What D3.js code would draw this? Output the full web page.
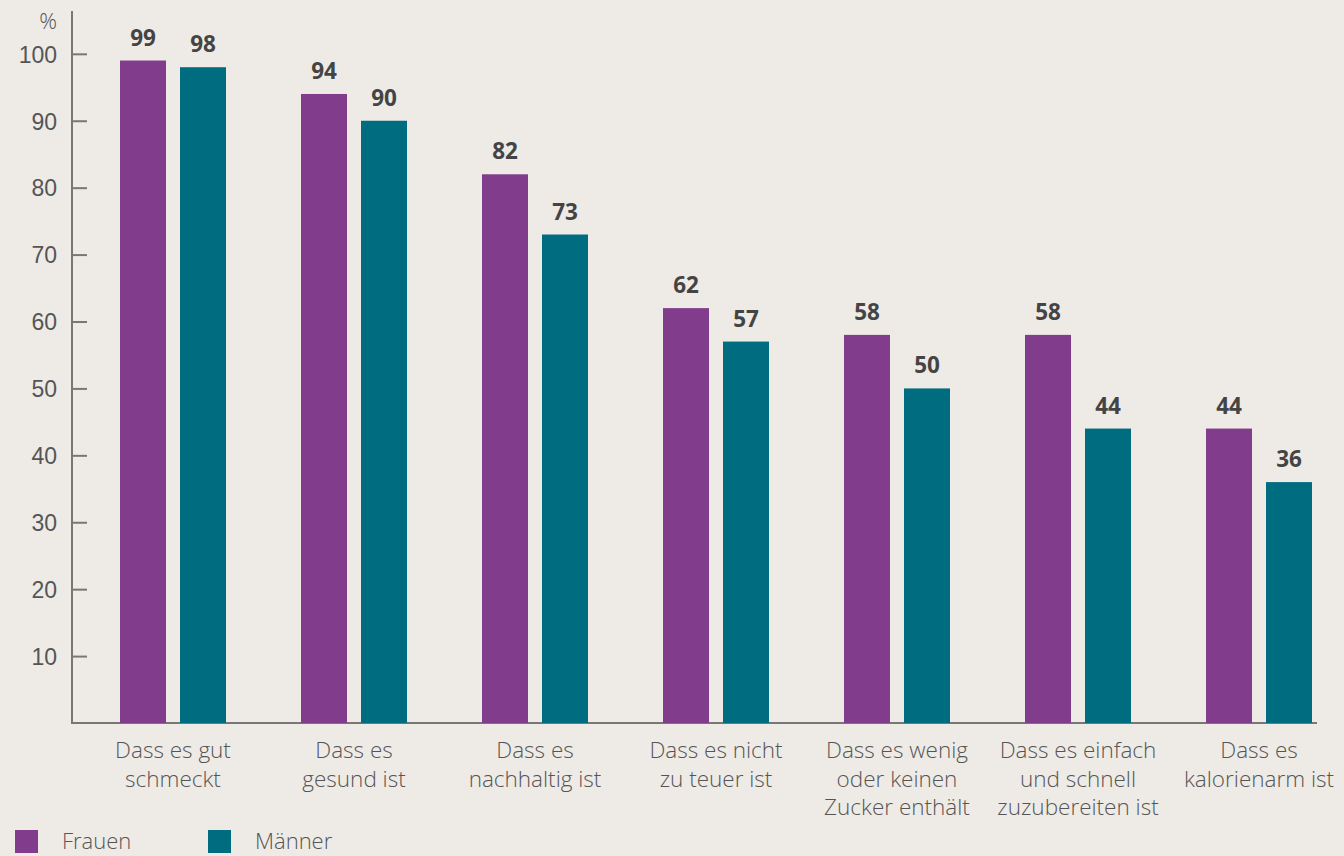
<!DOCTYPE html>
<html><head><meta charset="utf-8">
<script src="https://cdn.jsdelivr.net/npm/d3@7"></script>
<style>
html,body{margin:0;padding:0;background:#eeebe7;}
svg{display:block;font-family:"Open Sans",sans-serif;}
</style></head>
<body><svg id="c" width="1344" height="856"></svg>
<script>
const categories = [
  ["Dass es gut","schmeckt"],
  ["Dass es","gesund ist"],
  ["Dass es","nachhaltig ist"],
  ["Dass es nicht","zu teuer ist"],
  ["Dass es wenig","oder keinen","Zucker enthält"],
  ["Dass es einfach","und schnell","zuzubereiten ist"],
  ["Dass es","kalorienarm ist"]
];
const seriesNames = ["Frauen","Männer"];
const frauen = [99,94,82,62,58,58,44];
const maenner = [98,90,73,57,50,44,36];
const yTicks = [10,20,30,40,50,60,70,80,90,100];
const colors = {"Frauen":"#823c8c","Männer":"#006c80"};

const svg = d3.select("#c");
const catKeys = categories.map(c=>c.join(" "));
const x = d3.scaleBand().domain(catKeys).range([82.5,1349.5]).padding(0);
const y = d3.scaleLinear().domain([0,106.4]).range([723,11]);
const textCol = "#555";
const axisCol = "#777";

// y axis
const yAxis = d3.axisRight(y).tickValues(yTicks).tickSize(15).tickFormat(d3.format("d"));
const ya = svg.append("g").attr("transform","translate(72,0)").call(yAxis);
ya.select(".domain").remove();
ya.selectAll(".tick line").attr("stroke",axisCol).attr("stroke-width",2);
ya.selectAll(".tick text").attr("x",-15).attr("text-anchor","end").attr("dy","0.36em")
  .attr("fill",textCol).attr("font-size",23).attr("font-weight",300);
svg.append("line").attr("x1",72).attr("x2",72).attr("y1",y(106.4)).attr("y2",y(0)+1)
  .attr("stroke",axisCol).attr("stroke-width",2);
svg.append("line").attr("x1",71).attr("x2",1317).attr("y1",y(0)).attr("y2",y(0))
  .attr("stroke",axisCol).attr("stroke-width",2);
svg.append("text").attr("x",57).attr("y",29).attr("text-anchor","end")
  .attr("fill",textCol).attr("font-size",22).attr("font-weight",300).text("%");

// bars
const center = k => x(k)+x.bandwidth()/2;
const xs = d3.scaleBand().domain(seriesNames).range([-53,53]).paddingInner(2-106/60).paddingOuter(0);
const data = [];
catKeys.forEach((k,i)=>{
  data.push({k,s:"Frauen",v:frauen[i]});
  data.push({k,s:"Männer",v:maenner[i]});
});
svg.append("g").selectAll("rect").data(data).join("rect")
  .attr("x",d=>center(d.k)+xs(d.s)).attr("width",xs.bandwidth())
  .attr("y",d=>y(d.v)).attr("height",d=>y(0)-y(d.v))
  .attr("fill",d=>colors[d.s]);
svg.append("g").selectAll("text").data(data).join("text")
  .attr("x",d=>center(d.k)+xs(d.s)+xs.bandwidth()/2).attr("y",d=>y(d.v)-15)
  .attr("text-anchor","middle").attr("fill","#444").attr("font-size",22.5).attr("font-weight",700)
  .text(d=>d.v);

// category labels
categories.forEach((lines,i)=>{
  const t = svg.append("text").attr("x",center(catKeys[i])).attr("y",758)
    .attr("text-anchor","middle").attr("fill",textCol).attr("font-size",22.5).attr("font-weight",300);
  lines.forEach((l,j)=>t.append("tspan").attr("x",center(catKeys[i])).attr("y",758+j*28.7).text(l));
});

// legend
const legX = [15,208];
seriesNames.forEach((s,i)=>{
  svg.append("rect").attr("x",legX[i]).attr("y",830).attr("width",23).attr("height",23).attr("fill",colors[s]);
  svg.append("text").attr("x",legX[i]+47).attr("y",849).attr("fill",textCol)
    .attr("font-size",22).attr("font-weight",300).text(s);
});
</script></body></html>
